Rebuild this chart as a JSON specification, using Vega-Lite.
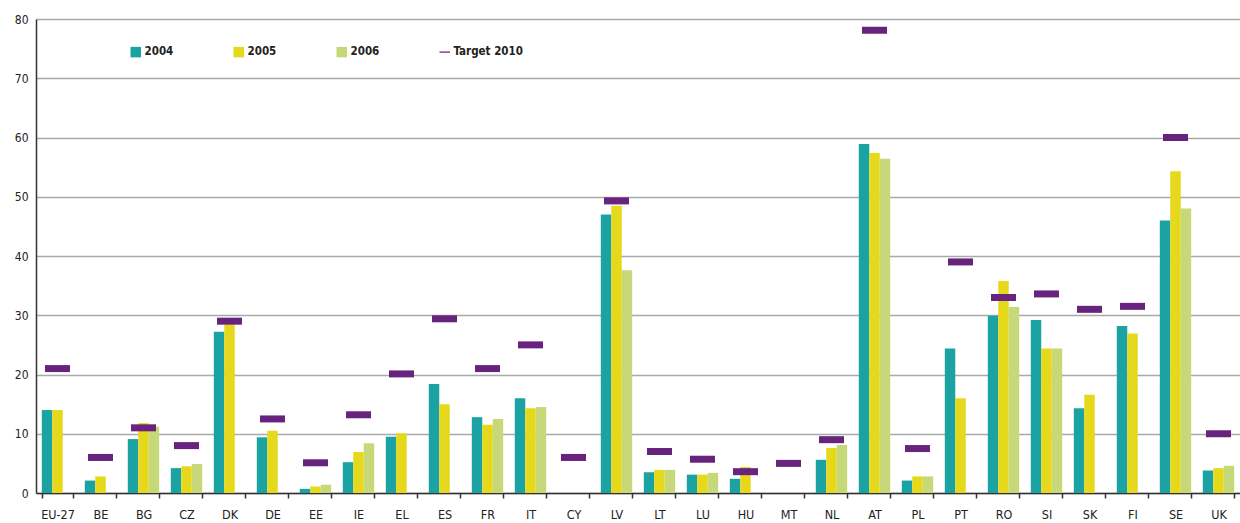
{
  "$schema": "https://vega.github.io/schema/vega-lite/v6.json",
  "width": 1204,
  "height": 474,
  "autosize": {"type": "none"},
  "padding": {"left": 36, "top": 19, "right": 0, "bottom": 30},
  "background": "white",
  "config": {
    "view": {"stroke": null},
    "font": "Liberation Sans Narrow, DejaVu Sans Condensed, sans-serif"
  },
  "datasets": {
    "shares": [
      {"country": "EU-27", "year": "2004", "value": 14.0},
      {"country": "EU-27", "year": "2005", "value": 14.0},
      {"country": "BE", "year": "2004", "value": 2.1},
      {"country": "BE", "year": "2005", "value": 2.8},
      {"country": "BG", "year": "2004", "value": 9.1},
      {"country": "BG", "year": "2005", "value": 11.8},
      {"country": "BG", "year": "2006", "value": 11.2},
      {"country": "CZ", "year": "2004", "value": 4.2},
      {"country": "CZ", "year": "2005", "value": 4.5},
      {"country": "CZ", "year": "2006", "value": 4.9},
      {"country": "DK", "year": "2004", "value": 27.2},
      {"country": "DK", "year": "2005", "value": 28.5},
      {"country": "DE", "year": "2004", "value": 9.4},
      {"country": "DE", "year": "2005", "value": 10.5},
      {"country": "EE", "year": "2004", "value": 0.7},
      {"country": "EE", "year": "2005", "value": 1.1},
      {"country": "EE", "year": "2006", "value": 1.4},
      {"country": "IE", "year": "2004", "value": 5.2},
      {"country": "IE", "year": "2005", "value": 6.9},
      {"country": "IE", "year": "2006", "value": 8.4},
      {"country": "EL", "year": "2004", "value": 9.5},
      {"country": "EL", "year": "2005", "value": 10.1},
      {"country": "ES", "year": "2004", "value": 18.4},
      {"country": "ES", "year": "2005", "value": 15.0},
      {"country": "FR", "year": "2004", "value": 12.8},
      {"country": "FR", "year": "2005", "value": 11.5},
      {"country": "FR", "year": "2006", "value": 12.5},
      {"country": "IT", "year": "2004", "value": 16.0},
      {"country": "IT", "year": "2005", "value": 14.3},
      {"country": "IT", "year": "2006", "value": 14.5},
      {"country": "LV", "year": "2004", "value": 47.0},
      {"country": "LV", "year": "2005", "value": 48.5},
      {"country": "LV", "year": "2006", "value": 37.6},
      {"country": "LT", "year": "2004", "value": 3.5},
      {"country": "LT", "year": "2005", "value": 3.9},
      {"country": "LT", "year": "2006", "value": 3.9},
      {"country": "LU", "year": "2004", "value": 3.1},
      {"country": "LU", "year": "2005", "value": 3.1},
      {"country": "LU", "year": "2006", "value": 3.4},
      {"country": "HU", "year": "2004", "value": 2.4},
      {"country": "HU", "year": "2005", "value": 4.4},
      {"country": "NL", "year": "2004", "value": 5.6},
      {"country": "NL", "year": "2005", "value": 7.6},
      {"country": "NL", "year": "2006", "value": 8.1},
      {"country": "AT", "year": "2004", "value": 58.9},
      {"country": "AT", "year": "2005", "value": 57.4},
      {"country": "AT", "year": "2006", "value": 56.4},
      {"country": "PL", "year": "2004", "value": 2.1},
      {"country": "PL", "year": "2005", "value": 2.8},
      {"country": "PL", "year": "2006", "value": 2.8},
      {"country": "PT", "year": "2004", "value": 24.4},
      {"country": "PT", "year": "2005", "value": 16.0},
      {"country": "RO", "year": "2004", "value": 29.9},
      {"country": "RO", "year": "2005", "value": 35.8},
      {"country": "RO", "year": "2006", "value": 31.4},
      {"country": "SI", "year": "2004", "value": 29.2},
      {"country": "SI", "year": "2005", "value": 24.4},
      {"country": "SI", "year": "2006", "value": 24.4},
      {"country": "SK", "year": "2004", "value": 14.3},
      {"country": "SK", "year": "2005", "value": 16.6},
      {"country": "FI", "year": "2004", "value": 28.2},
      {"country": "FI", "year": "2005", "value": 26.9},
      {"country": "SE", "year": "2004", "value": 46.0},
      {"country": "SE", "year": "2005", "value": 54.3},
      {"country": "SE", "year": "2006", "value": 48.0},
      {"country": "UK", "year": "2004", "value": 3.8},
      {"country": "UK", "year": "2005", "value": 4.2},
      {"country": "UK", "year": "2006", "value": 4.6}
    ],
    "targets": [
      {"country": "EU-27", "target": 21.0},
      {"country": "BE", "target": 6.0},
      {"country": "BG", "target": 11.0},
      {"country": "CZ", "target": 8.0},
      {"country": "DK", "target": 29.0},
      {"country": "DE", "target": 12.5},
      {"country": "EE", "target": 5.1},
      {"country": "IE", "target": 13.2},
      {"country": "EL", "target": 20.1},
      {"country": "ES", "target": 29.4},
      {"country": "FR", "target": 21.0},
      {"country": "IT", "target": 25.0},
      {"country": "CY", "target": 6.0},
      {"country": "LV", "target": 49.3},
      {"country": "LT", "target": 7.0},
      {"country": "LU", "target": 5.7},
      {"country": "HU", "target": 3.6},
      {"country": "MT", "target": 5.0},
      {"country": "NL", "target": 9.0},
      {"country": "AT", "target": 78.1},
      {"country": "PL", "target": 7.5},
      {"country": "PT", "target": 39.0},
      {"country": "RO", "target": 33.0},
      {"country": "SI", "target": 33.6},
      {"country": "SK", "target": 31.0},
      {"country": "FI", "target": 31.5},
      {"country": "SE", "target": 60.0},
      {"country": "UK", "target": 10.0}
    ]
  },
  "layer": [
    {
      "data": {"name": "shares"},
      "mark": {"type": "bar"},
      "encoding": {
        "x": {
          "field": "country",
          "type": "nominal",
          "scale": {
            "domain": ["EU-27","BE","BG","CZ","DK","DE","EE","IE","EL","ES","FR","IT","CY","LV","LT","LU","HU","MT","NL","AT","PL","PT","RO","SI","SK","FI","SE","UK"],
            "paddingInner": 0.27,
            "paddingOuter": 0.135
          },
          "axis": {
            "title": null,
            "labelAngle": 0,
            "labelFontSize": 12.5,
            "labelColor": "#222",
            "labelPadding": 10,
            "domainColor": "#333",
            "domainWidth": 1.5,
            "tickColor": "#333",
            "tickWidth": 1.5,
            "tickSize": 5,
            "tickBand": "extent",
            "grid": false
          }
        },
        "xOffset": {"field": "year", "type": "nominal", "scale": {"domain": ["2004","2005","2006"], "paddingInner": 0, "paddingOuter": 0}},
        "y": {
          "field": "value",
          "type": "quantitative",
          "scale": {"domain": [0, 80], "nice": false},
          "axis": {
            "title": null,
            "values": [0,10,20,30,40,50,60,70,80],
            "labelFontSize": 12,
            "labelColor": "#222",
            "labelPadding": 8,
            "ticks": false,
            "grid": true,
            "gridColor": "#a9a9a9",
            "gridWidth": 1.6,
            "domainColor": "#333",
            "domainWidth": 1.5
          }
        },
        "color": {
          "field": "year",
          "type": "nominal",
          "scale": {
            "domain": ["2004","2005","2006","Target 2010"],
            "range": ["#1ba3a3","#e6d81a","#c6d878","#8a4aa0"]
          },
          "legend": {
            "title": null,
            "orient": "none",
            "direction": "horizontal",
            "legendX": 94,
            "legendY": 27,
            "symbolSize": 110,
            "symbolStrokeWidth": 0,
            "labelFontSize": 11.5,
            "labelFontWeight": "bold",
            "labelColor": "#222",
            "labelOffset": 3,
            "columnPadding": 59,
            "encode": {
              "symbols": {
                "update": {
                  "shape": {"signal": "datum.label === 'Target 2010' ? 'M-1,-0.15H1V0.15H-1Z' : 'square'"}
                }
              }
            }
          }
        }
      }
    },
    {
      "data": {"name": "targets"},
      "mark": {"type": "tick", "size": 25, "thickness": 7, "color": "#68237f", "opacity": 1},
      "encoding": {
        "x": {"field": "country", "type": "nominal"},
        "y": {"field": "target", "type": "quantitative"},
        "color": {"datum": "Target 2010"},
        "fill": {"value": "#68237f"}
      }
    }
  ]
}
